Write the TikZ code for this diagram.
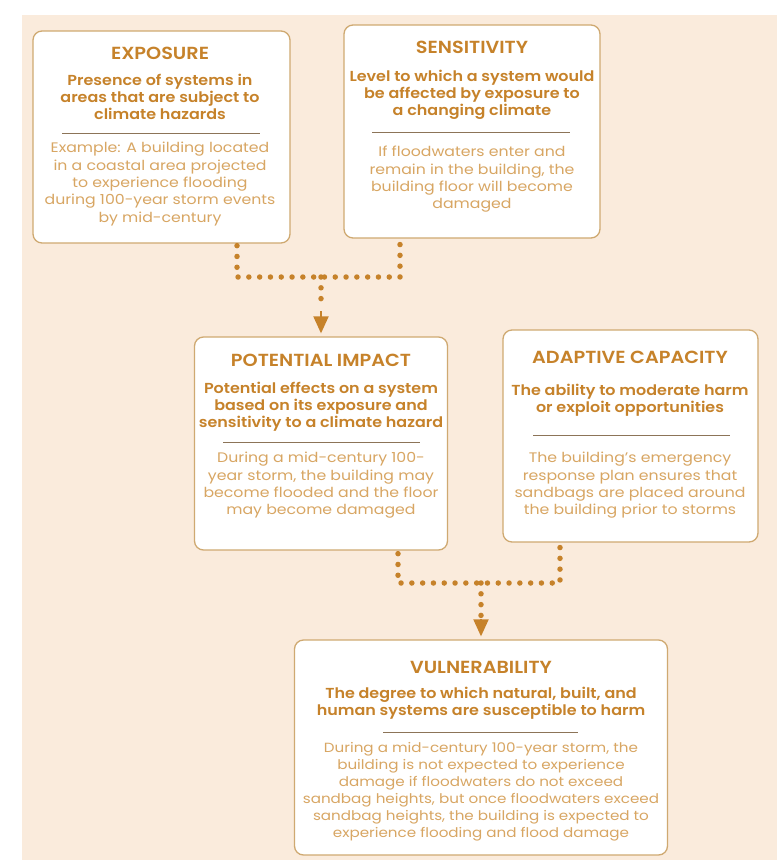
\documentclass[tikz,border=0pt]{standalone}
\usepackage{fontspec}
\usepackage{xcolor}
\usepackage{tikz}
\usetikzlibrary{arrows.meta}
\setmainfont{Poppins}
\newfontfamily\headfont{Poppins SemiBold}[FakeStretch=1.1]
\newfontfamily\bodyfont{Poppins}[FakeStretch=1.14]

\definecolor{panelbg}{HTML}{FAEBDC}
\definecolor{boxline}{HTML}{CFA971}
\definecolor{headorange}{HTML}{C6822A}
\definecolor{bodyorange}{HTML}{D8A663}
\definecolor{rulegray}{HTML}{8C7458}

\tikzset{
  box/.style={draw=boxline,line width=1.3pt,fill=white,rounded corners=9pt,inner sep=0pt},
  titletext/.style={font=\headfont\fontsize{17.5}{17}\selectfont,text=headorange,inner sep=0pt},
  subtext/.style={font=\headfont\fontsize{14.5}{17}\selectfont,text=headorange,align=center,inner sep=0pt,anchor=north},
  bodytext/.style={font=\bodyfont\fontsize{13.8}{17.4}\selectfont,text=bodyorange,align=center,inner sep=0pt,anchor=north},
  rulestyle/.style={draw=rulegray,line width=.6pt},
  dots/.style={draw=headorange,line width=5.5pt,line cap=round,dash pattern=on 0pt off 10.8pt},
  tipline/.style={draw=headorange,line width=2pt,-{Triangle[width=15pt,length=17pt]},shorten >=3pt}
}

\begin{document}
\begin{tikzpicture}[x=1pt,y=-1pt]
      \useasboundingbox (0,0) rectangle (782,863);
      \fill[white] (0,0) rectangle (782,863);
      \fill[panelbg] (22,15) rectangle (777,860);

      % boxes
      \node[box,minimum width=257pt,minimum height=212pt] (exp) at (161.5,137) {};
      \node[box,minimum width=256pt,minimum height=213pt] (sen) at (472,131.5) {};
      \node[box,minimum width=253pt,minimum height=213pt] (pi) at (321,443.5) {};
      \node[box,minimum width=255pt,minimum height=212pt] (ac) at (630.5,436) {};
      \node[box,minimum width=373pt,minimum height=215pt] (vul) at (481,747.5) {};

      % exposure
      \node[titletext] (exp-t) at (160,53.5) {EXPOSURE};
      \node[subtext] (exp-s) at (160,73.5) {Presence of systems in\\areas that are subject to\\climate hazards};
      \draw[rulestyle] (62,133) -- (260,133);
      \node[bodytext] (exp-b) at (160,142) {Example: A building located\\in a coastal area projected\\to experience flooding\\during 100-year storm events\\by mid-century};

      % sensitivity
      \node[titletext] (sen-t) at (472,47.5) {SENSITIVITY};
      \node[subtext] (sen-s) at (472,69.5) {Level to which a system would\\be affected by exposure to\\a changing climate};
      \draw[rulestyle] (372,132) -- (570,132);
      \node[bodytext] (sen-b) at (472,146) {If floodwaters enter and\\remain in the building, the\\building floor will become\\damaged};

      % potential impact
      \node[titletext] (pi-t) at (321,360.5) {POTENTIAL IMPACT};
      \node[subtext] (pi-s) at (321,381.5) {Potential effects on a system\\based on its exposure and\\sensitivity to a climate hazard};
      \draw[rulestyle] (223,442) -- (420,442);
      \node[bodytext] (pi-b) at (321,452) {During a mid-century 100-\\year storm, the building may\\become flooded and the floor\\may become damaged};

      % adaptive capacity
      \node[titletext] (ac-t) at (630,357.5) {ADAPTIVE CAPACITY};
      \node[subtext] (ac-s) at (630,383.5) {The ability to moderate harm\\or exploit opportunities};
      \draw[rulestyle] (533,435) -- (730,435);
      \node[bodytext] (ac-b) at (630,452) {The building’s emergency\\response plan ensures that\\sandbags are placed around\\the building prior to storms};

      % vulnerability
      \node[titletext] (vul-t) at (481,667.5) {VULNERABILITY};
      \node[subtext] (vul-s) at (481,686.5) {The degree to which natural, built, and\\human systems are susceptible to harm};
      \draw[rulestyle] (383,732) -- (578,732);
      \node[bodytext,font=\bodyfont\fontsize{13.3}{17}\selectfont] (vul-b) at (481,742) {During a mid-century 100-year storm, the\\building is not expected to experience\\damage if floodwaters do not exceed\\sandbag heights, but once floodwaters exceed\\sandbag heights, the building is expected to\\experience flooding and flood damage};

      % connectors
      \coordinate (jl) at (237,277);
      \coordinate (jr) at (400,277);
      \coordinate (jm) at (321,277);
      \draw[dots] ([shift={(75.5,2)}]exp.south) -- (jl) -- (jr) -- ([shift={(-72,4)}]sen.south);
      \draw[dots] (jm) -- (321,308);
      \draw[tipline] (321,311) -- (pi.north);

      \coordinate (kl) at (398,583);
      \coordinate (kr) at (560,583);
      \coordinate (km) at (481,583);
      \draw[dots] ([shift={(77,3)}]pi.south) -- (kl) -- (kr) -- ([shift={(-70.5,3)}]ac.south);
      \draw[dots] (km) -- (481,616);
      \draw[tipline] (481,619) -- (vul.north);
    \end{tikzpicture}
\end{document}
